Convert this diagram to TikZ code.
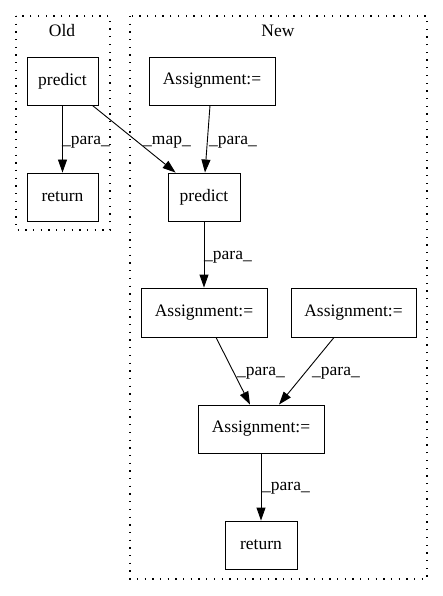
\documentclass[tikz,border=0pt]{standalone}
\usepackage{fontspec}
\setmainfont{Liberation Serif}
\usetikzlibrary{arrows.meta}
\begin{document}
\begin{tikzpicture}[x=1pt,y=-1pt,
  box/.style={draw,line width=0.9pt,inner sep=0pt,font=\fontsize{17.5}{20}\selectfont},
  lbl/.style={inner sep=0pt,font=\fontsize{17.5}{20}\selectfont},
  cluster/.style={draw,line width=1.2pt,dash pattern=on 1.3pt off 6.4pt},
  edge/.style={line width=0.9pt,-{Triangle[length=13pt,width=9pt]}}]
\useasboundingbox (0,0) rectangle (443,596);
\draw[cluster] (16,16) rectangle (110,230);
\draw[cluster] (130,16) rectangle (427,579);
\node[lbl] (old) at (62,31) {Old};
\node[lbl] (new) at (278,31) {New};
\node[box,minimum width=71pt,minimum height=48pt] (op) at (62.5,81) {predict};
\node[box,minimum width=71pt,minimum height=48pt] (or) at (62.5,197) {return};
\node[box,minimum width=126pt,minimum height=48pt] (a1) at (212,81) {Assignment:=};
\node[box,minimum width=72pt,minimum height=48pt] (np) at (204,197) {predict};
\node[box,minimum width=126pt,minimum height=49pt] (a2) at (204,312.5) {Assignment:=};
\node[box,minimum width=125pt,minimum height=49pt] (a3) at (353.5,312.5) {Assignment:=};
\node[box,minimum width=126pt,minimum height=48pt] (a4) at (261,429) {Assignment:=};
\node[box,minimum width=72pt,minimum height=48pt] (nr) at (261,545) {return};
\coordinate (opse) at ([xshift=-6pt]op.south east);
\coordinate (npnw) at ([xshift=8pt]np.north west);
\draw[edge] (op) -- (or);
\draw[edge] (opse) -- (npnw);
\draw[edge] (a1.south -| 210,0) -- (np.north -| 205,0);
\draw[edge] (np) -- (a2);
\draw[edge] (a2.south -| 216,0) -- (a4.north -| 250,0);
\draw[edge] (a3.south -| 334,0) -- (a4.north -| 279,0);
\draw[edge] (a4) -- (nr);
\node[lbl] (l1) at (86,142) {\_para\_};
\node[lbl] (l2) at (167,142) {\_map\_};
\node[lbl] (l3) at (233,142) {\_para\_};
\node[lbl] (l4) at (228,257) {\_para\_};
\node[lbl] (l5) at (261,373) {\_para\_};
\node[lbl] (l6) at (336,373) {\_para\_};
\node[lbl] (l7) at (286,488) {\_para\_};
\end{tikzpicture}
\end{document}
